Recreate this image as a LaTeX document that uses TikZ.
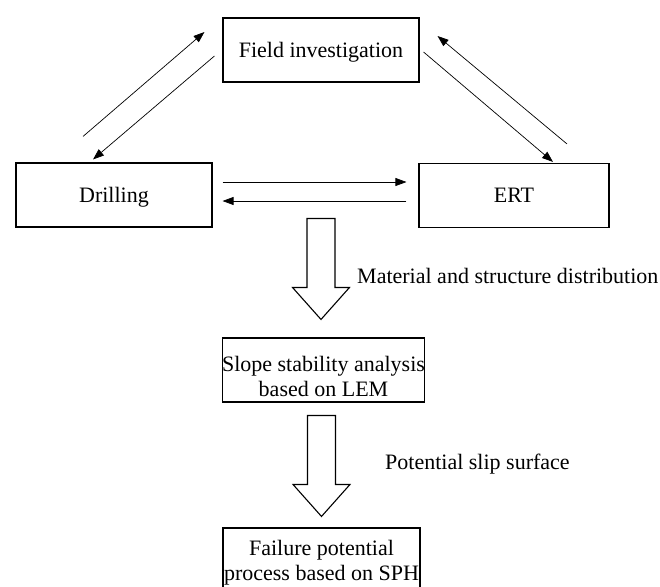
\documentclass[tikz,border=0pt]{standalone}
\usepackage{fontspec}
\setmainfont{Liberation Serif}
\usetikzlibrary{arrows.meta,calc}

\begin{document}
\begin{tikzpicture}[x=1pt,y=-1pt,
	box/.style={draw,line width=1.1pt,minimum width=196pt,minimum height=64pt,inner sep=0pt,align=center,text depth=-3pt,font=\fontsize{22}{25}\selectfont},
	link/.style={line width=0.7pt,-{Triangle[length=11pt,width=8pt]}},
	note/.style={anchor=base west,inner sep=0pt,font=\fontsize{22}{25}\selectfont},
	downarrow/.pic={\draw[line width=1.1pt] (-14,0) -- (14,0) -- (14,69) -- (28.5,69) -- (0,101) -- (-28.5,69) -- (-14,69) -- cycle;}]
	\useasboundingbox (0,0) rectangle (660,586);
	\node[box] (field) at (321,50) {Field investigation};
	\node[box] (drill) at (114,195) {Drilling};
	\node[box,minimum width=190pt] (ert) at (514,195.5) {ERT};
	\node[box,minimum width=195pt] (slope) at (323.5,370) {\rule{0pt}{27pt}Slope stability analysis\\based on LEM};
	\node[box,minimum width=197pt] (fail) at (321.5,560) {Failure potential\\process based on SPH};
	% exchange between the three surveys
	\draw[link] ($(drill.north)+(-31,-26)$) -- ($(field.west)+(-18,-18)$);
	\draw[link] ($(field.west)+(-8,6)$) -- ($(drill.north)+(-21,-3)$);
	\draw[link] ($(field.east)+(4,2)$) -- ($(ert.north)+(39,-1)$);
	\draw[link] ($(ert.north)+(53,-19)$) -- ($(field.east)+(18,-14)$);
	\draw[link] ($(drill.east)+(10,-13)$) -- ($(ert.west)+(-12,-13.5)$);
	\draw[link] ($(ert.west)+(-12,5.5)$) -- ($(drill.east)+(10,6)$);
	% hollow arrows down the chain
	\pic at ($(slope.north)+(-2.5,-119)$) {downarrow};
	\pic at ($(fail.north)+(0,-112)$) {downarrow};
	\node[note] (material) at (357,283) {Material and structure distribution};
	\node[note] (slip) at (385,469) {Potential slip surface};
\end{tikzpicture}
\end{document}
